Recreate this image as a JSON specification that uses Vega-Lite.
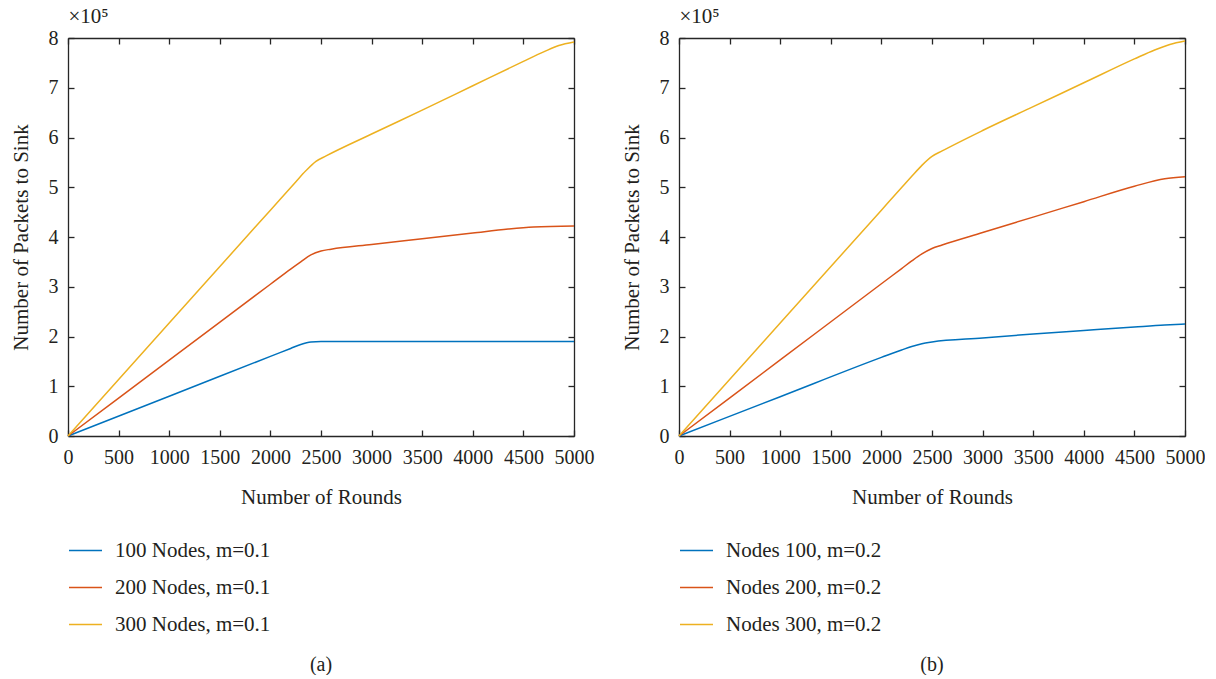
{
  "$schema": "https://vega.github.io/schema/vega-lite/v6.json",
  "background": "white",
  "padding": {"left": 10, "top": 5, "right": 0, "bottom": 0},
  "config": {
    "font": "Liberation Serif",
    "view": {"stroke": null},
    "axis": {
      "grid": false,
      "domainColor": "#262626",
      "domainWidth": 1.3,
      "tickColor": "#262626",
      "tickWidth": 1.3,
      "tickSize": -6,
      "labelFont": "Liberation Serif",
      "labelFontSize": 20,
      "labelColor": "#231f20",
      "titleFont": "Liberation Serif",
      "titleFontSize": 21,
      "titleFontWeight": "normal",
      "titleColor": "#231f20"
    },
    "legend": {
      "labelFont": "Liberation Serif",
      "labelFontSize": 21,
      "labelColor": "#231f20",
      "symbolType": "stroke",
      "symbolSize": 1089,
      "symbolStrokeWidth": 1.5,
      "labelOffset": 12,
      "rowPadding": 9,
      "padding": 0
    },
    "title": {
      "font": "Liberation Serif",
      "fontSize": 20,
      "fontWeight": "normal",
      "color": "#231f20"
    }
  },
  "datasets": {
    "m01": [
      {"series": "100 Nodes, m=0.1", "rounds": 0, "packets": 0},
      {"series": "100 Nodes, m=0.1", "rounds": 1000, "packets": 80000},
      {"series": "100 Nodes, m=0.1", "rounds": 2000, "packets": 160000},
      {"series": "100 Nodes, m=0.1", "rounds": 2200, "packets": 176000},
      {"series": "100 Nodes, m=0.1", "rounds": 2300, "packets": 184000},
      {"series": "100 Nodes, m=0.1", "rounds": 2400, "packets": 189000},
      {"series": "100 Nodes, m=0.1", "rounds": 2500, "packets": 190000},
      {"series": "100 Nodes, m=0.1", "rounds": 3000, "packets": 190000},
      {"series": "100 Nodes, m=0.1", "rounds": 3500, "packets": 190000},
      {"series": "100 Nodes, m=0.1", "rounds": 4000, "packets": 190000},
      {"series": "100 Nodes, m=0.1", "rounds": 4500, "packets": 190000},
      {"series": "100 Nodes, m=0.1", "rounds": 5000, "packets": 190000},
      {"series": "200 Nodes, m=0.1", "rounds": 0, "packets": 0},
      {"series": "200 Nodes, m=0.1", "rounds": 1000, "packets": 152500},
      {"series": "200 Nodes, m=0.1", "rounds": 2000, "packets": 305000},
      {"series": "200 Nodes, m=0.1", "rounds": 2200, "packets": 335500},
      {"series": "200 Nodes, m=0.1", "rounds": 2300, "packets": 350000},
      {"series": "200 Nodes, m=0.1", "rounds": 2400, "packets": 364000},
      {"series": "200 Nodes, m=0.1", "rounds": 2500, "packets": 372000},
      {"series": "200 Nodes, m=0.1", "rounds": 2600, "packets": 375500},
      {"series": "200 Nodes, m=0.1", "rounds": 3000, "packets": 385000},
      {"series": "200 Nodes, m=0.1", "rounds": 3500, "packets": 396500},
      {"series": "200 Nodes, m=0.1", "rounds": 4000, "packets": 408000},
      {"series": "200 Nodes, m=0.1", "rounds": 4350, "packets": 416000},
      {"series": "200 Nodes, m=0.1", "rounds": 4600, "packets": 420000},
      {"series": "200 Nodes, m=0.1", "rounds": 5000, "packets": 422000},
      {"series": "300 Nodes, m=0.1", "rounds": 0, "packets": 0},
      {"series": "300 Nodes, m=0.1", "rounds": 1000, "packets": 227000},
      {"series": "300 Nodes, m=0.1", "rounds": 2000, "packets": 454000},
      {"series": "300 Nodes, m=0.1", "rounds": 2250, "packets": 510750},
      {"series": "300 Nodes, m=0.1", "rounds": 2350, "packets": 533000},
      {"series": "300 Nodes, m=0.1", "rounds": 2450, "packets": 552000},
      {"series": "300 Nodes, m=0.1", "rounds": 2550, "packets": 563000},
      {"series": "300 Nodes, m=0.1", "rounds": 3000, "packets": 607000},
      {"series": "300 Nodes, m=0.1", "rounds": 3500, "packets": 655000},
      {"series": "300 Nodes, m=0.1", "rounds": 4000, "packets": 704000},
      {"series": "300 Nodes, m=0.1", "rounds": 4500, "packets": 753000},
      {"series": "300 Nodes, m=0.1", "rounds": 4700, "packets": 772000},
      {"series": "300 Nodes, m=0.1", "rounds": 4850, "packets": 785000},
      {"series": "300 Nodes, m=0.1", "rounds": 5000, "packets": 792000}
    ],
    "m02": [
      {"series": "Nodes 100, m=0.2", "rounds": 0, "packets": 0},
      {"series": "Nodes 100, m=0.2", "rounds": 1000, "packets": 79000},
      {"series": "Nodes 100, m=0.2", "rounds": 2000, "packets": 158000},
      {"series": "Nodes 100, m=0.2", "rounds": 2200, "packets": 173000},
      {"series": "Nodes 100, m=0.2", "rounds": 2300, "packets": 180000},
      {"series": "Nodes 100, m=0.2", "rounds": 2400, "packets": 185500},
      {"series": "Nodes 100, m=0.2", "rounds": 2500, "packets": 189000},
      {"series": "Nodes 100, m=0.2", "rounds": 3000, "packets": 197000},
      {"series": "Nodes 100, m=0.2", "rounds": 3500, "packets": 205000},
      {"series": "Nodes 100, m=0.2", "rounds": 4000, "packets": 212000},
      {"series": "Nodes 100, m=0.2", "rounds": 4500, "packets": 219000},
      {"series": "Nodes 100, m=0.2", "rounds": 4800, "packets": 223000},
      {"series": "Nodes 100, m=0.2", "rounds": 5000, "packets": 225000},
      {"series": "Nodes 200, m=0.2", "rounds": 0, "packets": 0},
      {"series": "Nodes 200, m=0.2", "rounds": 1000, "packets": 153000},
      {"series": "Nodes 200, m=0.2", "rounds": 2000, "packets": 306000},
      {"series": "Nodes 200, m=0.2", "rounds": 2200, "packets": 336600},
      {"series": "Nodes 200, m=0.2", "rounds": 2300, "packets": 351900},
      {"series": "Nodes 200, m=0.2", "rounds": 2400, "packets": 366000},
      {"series": "Nodes 200, m=0.2", "rounds": 2500, "packets": 377000},
      {"series": "Nodes 200, m=0.2", "rounds": 2600, "packets": 384000},
      {"series": "Nodes 200, m=0.2", "rounds": 3000, "packets": 409000},
      {"series": "Nodes 200, m=0.2", "rounds": 3500, "packets": 440000},
      {"series": "Nodes 200, m=0.2", "rounds": 4000, "packets": 471000},
      {"series": "Nodes 200, m=0.2", "rounds": 4500, "packets": 502000},
      {"series": "Nodes 200, m=0.2", "rounds": 4800, "packets": 517000},
      {"series": "Nodes 200, m=0.2", "rounds": 5000, "packets": 521000},
      {"series": "Nodes 300, m=0.2", "rounds": 0, "packets": 0},
      {"series": "Nodes 300, m=0.2", "rounds": 1000, "packets": 227000},
      {"series": "Nodes 300, m=0.2", "rounds": 2000, "packets": 454000},
      {"series": "Nodes 300, m=0.2", "rounds": 2200, "packets": 499400},
      {"series": "Nodes 300, m=0.2", "rounds": 2300, "packets": 522000},
      {"series": "Nodes 300, m=0.2", "rounds": 2400, "packets": 544000},
      {"series": "Nodes 300, m=0.2", "rounds": 2500, "packets": 562000},
      {"series": "Nodes 300, m=0.2", "rounds": 2600, "packets": 573000},
      {"series": "Nodes 300, m=0.2", "rounds": 3000, "packets": 614000},
      {"series": "Nodes 300, m=0.2", "rounds": 3500, "packets": 662000},
      {"series": "Nodes 300, m=0.2", "rounds": 4000, "packets": 710000},
      {"series": "Nodes 300, m=0.2", "rounds": 4500, "packets": 758000},
      {"series": "Nodes 300, m=0.2", "rounds": 4700, "packets": 776000},
      {"series": "Nodes 300, m=0.2", "rounds": 4850, "packets": 787000},
      {"series": "Nodes 300, m=0.2", "rounds": 5000, "packets": 794000}
    ]
  },
  "bounds": "flush",
  "spacing": 105,
  "resolve": {"scale": {"color": "independent"}},
  "hconcat": [
    {
      "width": 506,
      "height": 398,
      "data": {"name": "m01"},
      "title": {"text": "(a)", "orient": "bottom", "frame": "group", "anchor": "middle", "offset": 20},
      "layer": [
        {
          "mark": {"type": "line", "interpolate": "monotone", "strokeWidth": 1.5},
          "encoding": {
            "x": {"field": "rounds", "type": "quantitative", "scale": {"domain": [0, 5000], "nice": false},
                  "axis": {"orient": "bottom", "title": "Number of Rounds", "format": "d", "values": [0, 500, 1000, 1500, 2000, 2500, 3000, 3500, 4000, 4500, 5000], "labelPadding": 17, "titlePadding": 19, "labelFlush": false}},
            "y": {"field": "packets", "type": "quantitative", "scale": {"domain": [0, 800000], "nice": false},
                  "axis": {"orient": "left", "title": "Number of Packets to Sink", "values": [0, 100000, 200000, 300000, 400000, 500000, 600000, 700000, 800000], "labelExpr": "datum.value / 100000", "labelPadding": 16, "titlePadding": 17}},
            "color": {"field": "series", "type": "nominal",
                      "scale": {"domain": ["100 Nodes, m=0.1", "200 Nodes, m=0.1", "300 Nodes, m=0.1"], "range": ["#0072BD", "#D95319", "#EDB120"]},
                      "legend": {"title": null, "orient": "bottom", "direction": "vertical", "offset": 26}}
          }
        },
        {
          "mark": {"type": "point", "opacity": 0},
          "encoding": {
            "x": {"field": "rounds", "type": "quantitative",
                  "axis": {"orient": "top", "labels": false, "title": "×10⁵", "titleAnchor": "start", "titleAlign": "left", "titleAngle": 0, "titlePadding": 11, "titleFontSize": 21, "values": [0, 500, 1000, 1500, 2000, 2500, 3000, 3500, 4000, 4500, 5000]}},
            "y": {"field": "packets", "type": "quantitative",
                  "axis": {"orient": "right", "labels": false, "title": null, "values": [0, 100000, 200000, 300000, 400000, 500000, 600000, 700000, 800000]}}
          }
        }
      ],
      "resolve": {"axis": {"x": "independent", "y": "independent"}}
    },
    {
      "width": 506,
      "height": 398,
      "data": {"name": "m02"},
      "title": {"text": "(b)", "orient": "bottom", "frame": "group", "anchor": "middle", "offset": 20},
      "layer": [
        {
          "mark": {"type": "line", "interpolate": "monotone", "strokeWidth": 1.5},
          "encoding": {
            "x": {"field": "rounds", "type": "quantitative", "scale": {"domain": [0, 5000], "nice": false},
                  "axis": {"orient": "bottom", "title": "Number of Rounds", "format": "d", "values": [0, 500, 1000, 1500, 2000, 2500, 3000, 3500, 4000, 4500, 5000], "labelPadding": 17, "titlePadding": 19, "labelFlush": false}},
            "y": {"field": "packets", "type": "quantitative", "scale": {"domain": [0, 800000], "nice": false},
                  "axis": {"orient": "left", "title": "Number of Packets to Sink", "values": [0, 100000, 200000, 300000, 400000, 500000, 600000, 700000, 800000], "labelExpr": "datum.value / 100000", "labelPadding": 16, "titlePadding": 17}},
            "color": {"field": "series", "type": "nominal",
                      "scale": {"domain": ["Nodes 100, m=0.2", "Nodes 200, m=0.2", "Nodes 300, m=0.2"], "range": ["#0072BD", "#D95319", "#EDB120"]},
                      "legend": {"title": null, "orient": "bottom", "direction": "vertical", "offset": 26}}
          }
        },
        {
          "mark": {"type": "point", "opacity": 0},
          "encoding": {
            "x": {"field": "rounds", "type": "quantitative",
                  "axis": {"orient": "top", "labels": false, "title": "×10⁵", "titleAnchor": "start", "titleAlign": "left", "titleAngle": 0, "titlePadding": 11, "titleFontSize": 21, "values": [0, 500, 1000, 1500, 2000, 2500, 3000, 3500, 4000, 4500, 5000]}},
            "y": {"field": "packets", "type": "quantitative",
                  "axis": {"orient": "right", "labels": false, "title": null, "values": [0, 100000, 200000, 300000, 400000, 500000, 600000, 700000, 800000]}}
          }
        }
      ],
      "resolve": {"axis": {"x": "independent", "y": "independent"}}
    }
  ]
}
